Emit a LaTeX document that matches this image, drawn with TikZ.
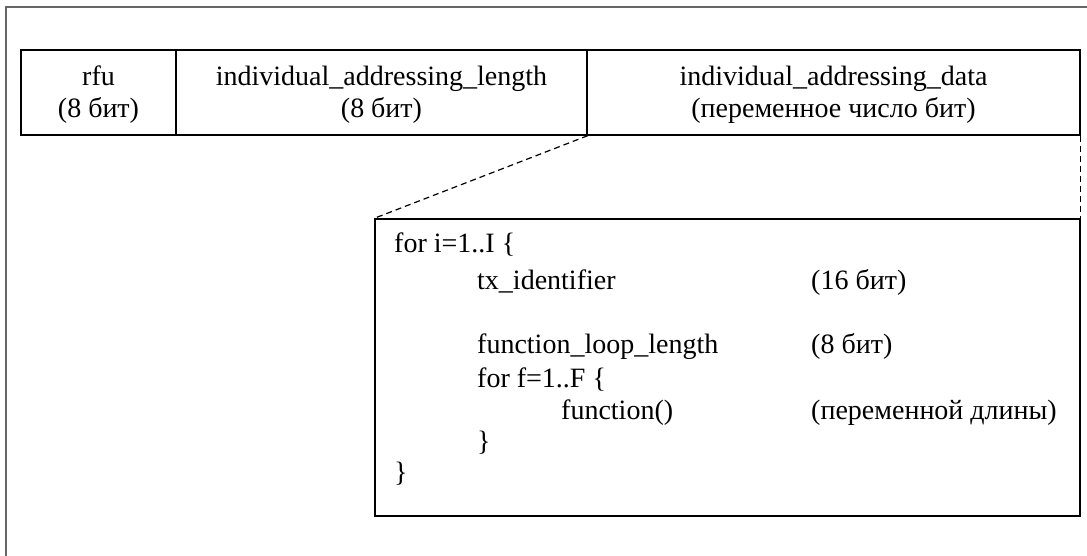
\documentclass[tikz,border=0pt]{standalone}
\usepackage{fontspec}
\setmainfont{Liberation Serif}
\begin{document}
\begin{tikzpicture}[x=1pt,y=1pt,
  txt/.style={font=\fontsize{28}{32}\selectfont},
  field/.style={draw, line width=1.4pt, inner sep=0pt, txt},
  lbl/.style={anchor=base, inner sep=0pt, align=center, txt},
  code/.style={anchor=base west, inner sep=0pt, txt},
  link/.style={line width=1.2pt, dash pattern=on 6pt off 4pt}]
\useasboundingbox (0,0) rectangle (1087,-556);
\fill[white] (0,0) rectangle (1087,-556);
% outer frame (only top and left edges visible)
\draw[line width=2pt, black!60] (6,-556) -- (6,-7) -- (1087,-7);
% top row of fields
\node[field, minimum width=155pt, minimum height=85pt] (rfu) at (98.5,-92.5) {};
\node[field, minimum width=411pt, minimum height=85pt] (len) at (381.5,-92.5) {};
\node[field, minimum width=493pt, minimum height=85pt] (data) at (833.5,-92.5) {};
\node[lbl] (rfut) at (98.5,-118) {rfu\\(8 бит)};
\node[lbl] (lent) at (381.5,-118) {individual\_addressing\_length\\(8 бит)};
\node[lbl] (datat) at (833.5,-118) {individual\_addressing\_data\\(переменное число бит)};
% expanded box
\node[field, minimum width=705pt, minimum height=297pt] (inner) at (727.5,-367.5) {};
\draw[link] (len.south east) -- (inner.north west);
\draw[link] (data.south east) -- (inner.north east);
% code lines
\node[code] (l1) at (394,-253) {for i=1..I \{};
\node[code] (l2) at (477,-289) {tx\_identifier};
\node[code] (l3) at (477,-353) {function\_loop\_length};
\node[code] (l4) at (477,-387) {for f=1..F \{};
\node[code] (l5) at (561,-419) {function()};
\node[code] (l6) at (477,-450) {\}};
\node[code] (l7) at (394,-481) {\}};
\node[code] (r2) at (811,-289) {(16 бит)};
\node[code] (r3) at (811,-353) {(8 бит)};
\node[code] (r5) at (811,-419) {(переменной длины)};
\end{tikzpicture}
\end{document}
